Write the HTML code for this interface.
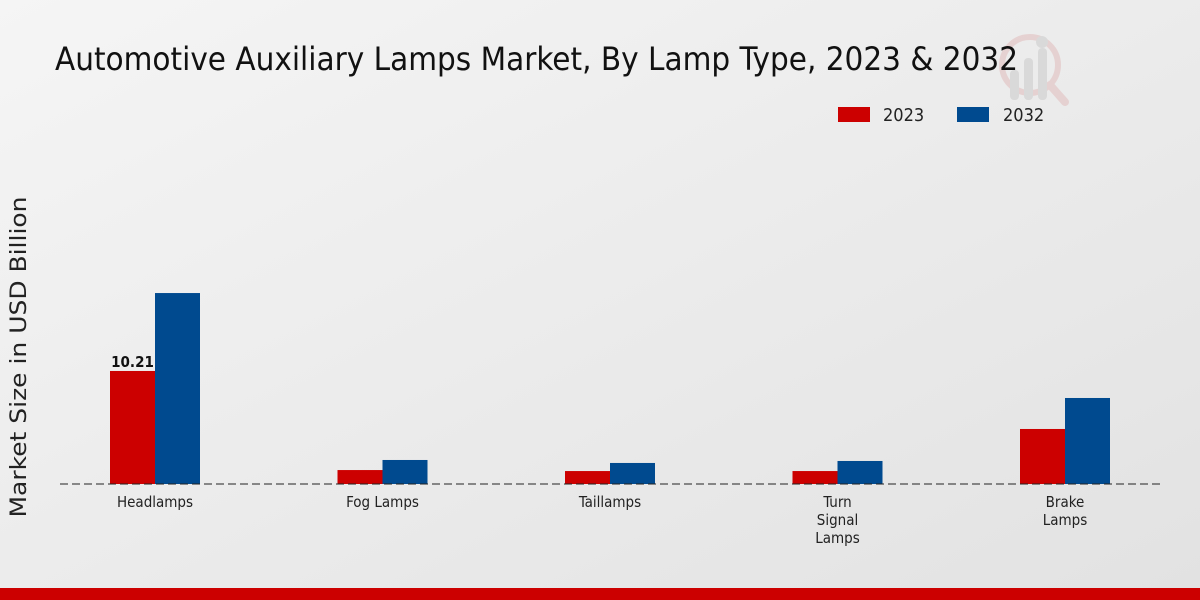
<!DOCTYPE html>
<html><head><meta charset="utf-8"><style>
body{margin:0;width:1200px;height:600px;overflow:hidden;font-family:"DejaVu Sans Condensed","DejaVu Sans","Liberation Sans",sans-serif;}
svg{display:block}
</style></head><body>
<svg id="c" width="1200" height="600">
<defs><linearGradient id="bg" x1="0" y1="0" x2="1" y2="1"><stop offset="0" stop-color="#f5f5f5"/><stop offset="1" stop-color="#e2e2e2"/></linearGradient></defs>
<rect width="1200" height="600" fill="url(#bg)"/>
<g opacity="0.5">
<circle cx="1030" cy="65" r="28" fill="none" stroke="#e0b8b8" stroke-width="6"/>
<line x1="1050" y1="85" x2="1065" y2="102" stroke="#e0b8b8" stroke-width="8" stroke-linecap="round"/>
<rect x="1010" y="70" width="9" height="30" rx="4" fill="#c8c8c8"/>
<rect x="1024" y="58" width="9" height="42" rx="4" fill="#c8c8c8"/>
<rect x="1038" y="48" width="9" height="52" rx="4" fill="#c8c8c8"/>
<circle cx="1042" cy="42" r="6" fill="#c8c8c8"/>
</g>
<text x="55" y="70" font-size="32" fill="#111" textLength="963" lengthAdjust="spacingAndGlyphs">Automotive Auxiliary Lamps Market, By Lamp Type, 2023 &amp; 2032</text>
<text transform="translate(26,357) rotate(-90)" text-anchor="middle" font-size="22" font-family="DejaVu Sans, sans-serif" fill="#222" textLength="321" lengthAdjust="spacingAndGlyphs">Market Size in USD Billion</text>
<g>
<rect x="838" y="107" width="32" height="15" fill="#cc0000"/>
<text x="883" y="121" font-size="18" fill="#222">2023</text>
<rect x="957" y="107" width="32" height="15" fill="#004a8f"/>
<text x="1003" y="121" font-size="18" fill="#222">2032</text>
</g>
<g id="plot"></g>
<line x1="60" y1="484" x2="1160" y2="484" stroke="#222" stroke-dasharray="8,4" stroke-width="1"/>
<rect x="0" y="588" width="1200" height="12" fill="#cc0000"/>
</svg>
<script>
const categories=[["Headlamps"],["Fog Lamps"],["Taillamps"],["Turn","Signal","Lamps"],["Brake","Lamps"]];
const values2023=[10.21,1.26,1.17,1.17,4.97];
const values2032=[17.25,2.17,1.9,2.08,7.77];
const labels2023=["10.21",null,null,null,null];
const NS="http://www.w3.org/2000/svg";
const base=484, pxPerUnit=11.07, x0=155, step=227.5, bw=45;
const y=v=>base-v*pxPerUnit;
const xc=i=>x0+i*step;
const g=document.getElementById('plot');
function mk(t,a){const e=document.createElementNS(NS,t);for(const k in a)e.setAttribute(k,a[k]);g.appendChild(e);return e;}
categories.forEach((c,i)=>{
 const r1=mk('rect',{x:xc(i)-bw,y:y(values2023[i]),width:bw,height:base-y(values2023[i]),fill:'#cc0000'});
 
 
 const r2=mk('rect',{x:xc(i),y:y(values2032[i]),width:bw,height:base-y(values2032[i]),fill:'#004a8f'});
 
 
 if(labels2023[i]){const t=mk('text',{x:xc(i)-bw/2,y:y(values2023[i])-4,'text-anchor':'middle','font-size':'15','font-weight':'bold',fill:'#111'});t.textContent=labels2023[i];
 
 }
 const t=mk('text',{x:xc(i),y:507,'text-anchor':'middle','font-size':'15',fill:'#222'});
 
 
 c.forEach((l,j)=>{const s=document.createElementNS(NS,'tspan');s.setAttribute('x',xc(i));s.setAttribute('dy',j?18:0);s.textContent=l;t.appendChild(s);});
});
</script>
</body></html>
